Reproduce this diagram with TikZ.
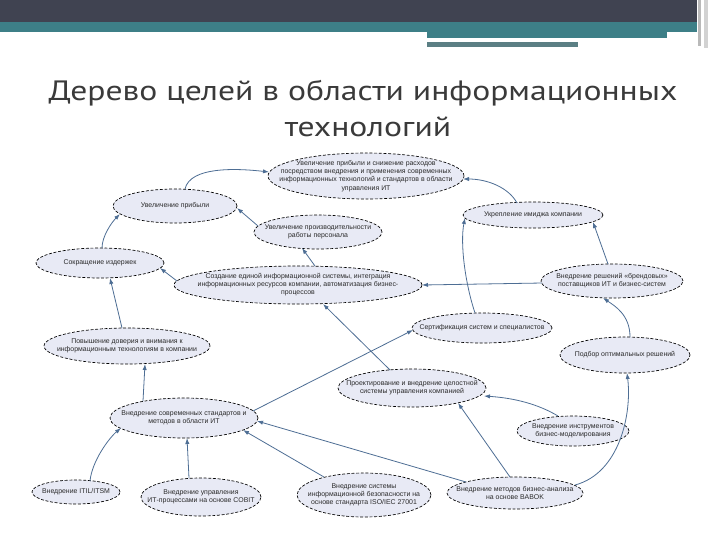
\documentclass[tikz,border=0pt]{standalone}
\usepackage{fontspec}
\setmainfont{Liberation Sans}
\newfontfamily\titlefont{PT Sans}
\usetikzlibrary{shapes.geometric,arrows.meta,calc}
\definecolor{barDark}{HTML}{404351}
\definecolor{barTeal}{HTML}{3D7F87}
\definecolor{lav}{HTML}{E8EAF5}
\definecolor{arr}{HTML}{4E6E94}
\definecolor{ttl}{HTML}{3A3A3A}
\definecolor{gtxt}{HTML}{2A2A2A}
\begin{document}
\begin{tikzpicture}[x=0.75pt,y=-0.75pt,
  goal/.style={ellipse, draw=black, dash pattern=on 2.2pt off 1.3pt, line width=0.5pt, fill=lav, inner sep=0pt},
  sz/.style 2 args={minimum width=#1*0.75pt, minimum height=#2*0.75pt},
  gtext/.style={align=center, text=gtxt, inner sep=0pt, font=\fontsize{5.2}{6.1}\selectfont},
  link/.style={draw=arr, line width=0.6pt, -{Latex[length=4.5pt,width=3.2pt]}},
  ttext/.style={text=ttl, inner sep=0pt, font=\titlefont\fontsize{21}{25}\selectfont}]
\useasboundingbox (0,0) rectangle (720,540);
\fill[white] (0,0) rectangle (720,540);
% header
\fill[barDark] (0,0) rectangle (697,22);
\fill[barTeal] (0,22) rectangle (697,32);
\fill[barTeal] (427,32) rectangle (667,38);
\fill[barTeal!55!gray] (427,42) rectangle (578,47);
\fill[gray!55] (698,0) rectangle (701,46);
\fill[gray!35] (704,0) rectangle (708,48);
% title
\node[ttext] (t1) at (363,93) {\scalebox{1.2}[1]{Дерево целей в области информационных}};
\node[ttext] (t2) at (368,127) {\scalebox{1.2}[1]{технологий}};
% goals
\node[goal, sz={196}{46}] (n1) at (366,176) {};
\node[gtext] at (n1) {Увеличение прибыли и снижение расходов\\посредством внедрения и применения современных\\информационных технологий и стандартов в области\\управления ИТ};
\node[goal, sz={124}{34}] (n2) at (175,206) {};
\node[gtext] at (n2) {Увеличение прибыли};
\node[goal, sz={128}{34}] (n3) at (318,232) {};
\node[gtext] at (n3) {Увеличение производительности\\работы персонала};
\node[goal, sz={128}{30}] (n4) at (100,263) {};
\node[gtext] at (n4) {Сокращение издержек};
\node[goal, sz={248}{38}] (n5) at (298,285) {};
\node[gtext] at (n5) {Создание единой информационной системы, интеграция\\информационных ресурсов компании, автоматизация бизнес-\\процессов};
\node[goal, sz={140}{26}] (n6) at (533,215) {};
\node[gtext] at (n6) {Укрепление имиджа компании};
\node[goal, sz={142}{34}] (n7) at (612,281) {};
\node[gtext] at (n7) {Внедрение решений «брендовых»\\поставщиков ИТ и бизнес-систем};
\node[goal, sz={166}{36}] (n8) at (127,346) {};
\node[gtext] at (n8) {Повышение доверия и внимания к\\информационным технологиям в компании};
\node[goal, sz={140}{30}] (n9) at (482,328) {};
\node[gtext] at (n9) {Сертификация систем и специалистов};
\node[goal, sz={130}{36}] (n10) at (625,355) {};
\node[gtext] at (n10) {Подбор оптимальных решений};
\node[goal, sz={148}{38}] (n11) at (412,388) {};
\node[gtext] at (n11) {Проектирование и внедрение целостной\\системы управления компанией};
\node[goal, sz={148}{40}] (n12) at (184,418) {};
\node[gtext] at (n12) {Внедрение современных стандартов и\\методов в области ИТ};
\node[goal, sz={112}{30}] (n13) at (573,431) {};
\node[gtext] at (n13) {Внедрение инструментов\\бизнес-моделирования};
\node[goal, sz={88}{24}] (n14) at (76,492) {};
\node[gtext] at (n14) {Внедрение ITIL/ITSM};
\node[goal, sz={120}{38}] (n15) at (201,497) {};
\node[gtext] at (n15) {Внедрение управления\\ИТ-процессами на основе COBIT};
\node[goal, sz={134}{44}] (n16) at (364,495) {};
\node[gtext] at (n16) {Внедрение системы\\информационной безопасности на\\основе стандарта ISO/IEC 27001};
\node[goal, sz={136}{32}] (n17) at (515,493) {};
\node[gtext] at (n17) {Внедрение методов бизнес-анализа\\на основе BABOK};
% connectors
\draw[link] ($(n2)+(10,-17)$) .. controls +(5,-22) and +(-35,-4) .. ($(n1)+(-97,-4)$);
\draw[link] ($(n6)+(-16,-12)$) .. controls +(-8,-15) and +(25,0) .. ($(n1)+(97,3)$);
\draw[link] ($(n3)+(-60,-6)$) -- ($(n2)+(62,2)$);
\draw[link] ($(n4)+(2,-15)$) .. controls +(0,-12) and +(-8,8) .. ($(n2)+(-55,8)$);
\draw[link] ($(n5)+(-121,-4)$) -- ($(n4)+(60,5)$);
\draw[link] ($(n5)+(17,-19)$) -- ($(n3)+(-16,16)$);
\draw[link] ($(n8)+(-5,-18)$) -- ($(n4)+(10,15)$);
\draw[link] ($(n7)+(-4,-17)$) -- ($(n6)+(60,7)$);
\draw[link] ($(n9)+(-7,-15)$) .. controls +(-10,-30) and +(-5,25) .. ($(n6)+(-68,3)$);
\draw[link] ($(n7)+(-70,2)$) -- ($(n5)+(124,0)$);
\draw[link] ($(n10)+(5,-18)$) .. controls +(0,-22) and +(12,8) .. ($(n7)+(-9,17)$);
\draw[link] ($(n11)+(-22,-18)$) -- ($(n5)+(25,19)$);
\draw[link] ($(n12)+(69,-7)$) -- ($(n9)+(-69,2)$);
\draw[link] ($(n12)+(-41,-17)$) -- ($(n8)+(18,18)$);
\draw[link] ($(n14)+(14,-11)$) .. controls +(2,-20) and +(-12,10) .. ($(n12)+(-63,10)$);
\draw[link] ($(n15)+(-12,-19)$) -- ($(n12)+(3,20)$);
\draw[link] ($(n16)+(-40,-18)$) -- ($(n12)+(59,12)$);
\draw[link] ($(n17)+(-49,-11)$) -- ($(n12)+(73,3)$);
\draw[link] ($(n17)+(-5,-16)$) -- ($(n11)+(46,15)$);
\draw[link] ($(n13)+(-15,-15)$) .. controls +(-20,-12) and +(30,2) .. ($(n11)+(72,8)$);
\draw[link] ($(n17)+(60,-8)$) .. controls +(45,-12) and +(5,40) .. ($(n10)+(2,18)$);
\end{tikzpicture}
\end{document}
